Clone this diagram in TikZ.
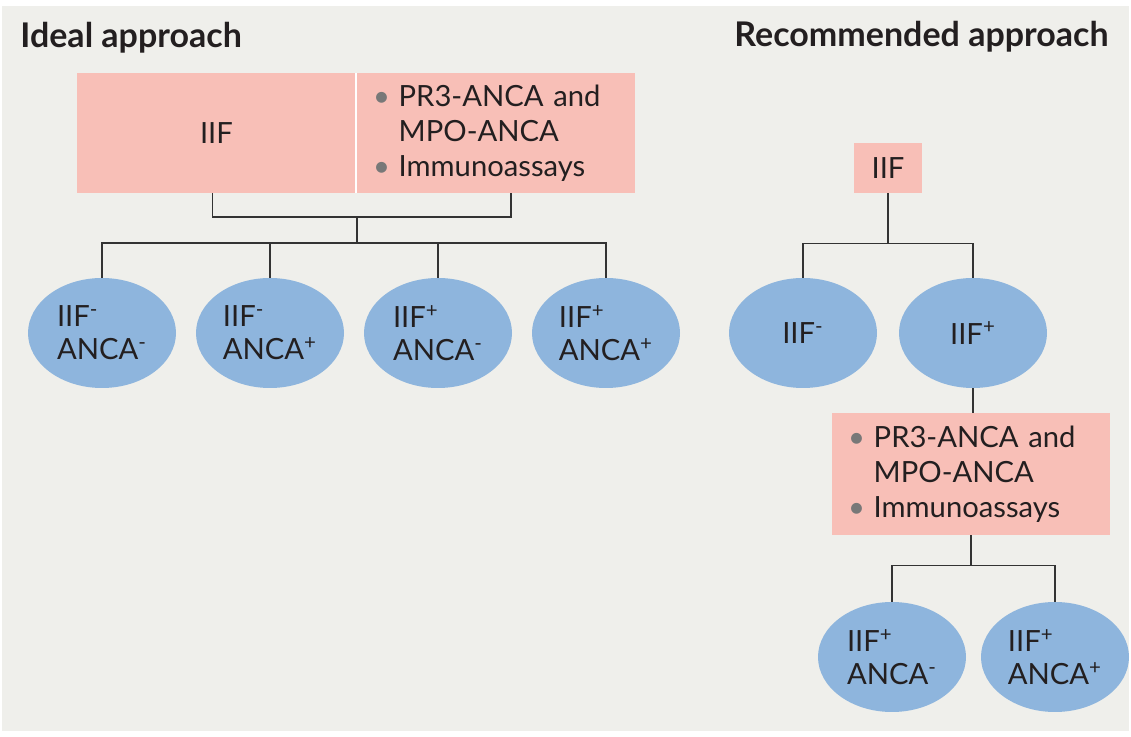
\documentclass[tikz,border=0pt]{standalone}
\usepackage{fontspec}
\setmainfont{Lato}
\usetikzlibrary{shapes.geometric}
\definecolor{bggrey}{RGB}{239,239,235}
\definecolor{boxpink}{RGB}{248,191,183}
\definecolor{ovalblue}{RGB}{142,181,221}
\definecolor{linegrey}{RGB}{51,51,51}
\definecolor{dotgrey}{RGB}{120,120,120}
\definecolor{inkblack}{RGB}{35,31,32}
\newcommand{\dotitem}{\textcolor{dotgrey}{\textbullet}\hspace{0.3em}}
\newcommand{\dotgap}{\hphantom{\textbullet\hspace{0.3em}}}
\newcommand{\testlist}{\dotitem PR3-ANCA and\\\dotgap MPO-ANCA\\\dotitem Immunoassays}

\begin{document}
\begin{tikzpicture}[x=0.5pt,y=-0.5pt,
    every node/.style={font=\fontsize{14.6}{17.5}\selectfont, text=inkblack},
    test/.style={fill=boxpink, inner sep=0pt},
    testlistbox/.style={test, align=left, inner xsep=8pt, text width=123pt, minimum height=61pt},
    oval/.style={ellipse, fill=ovalblue, inner sep=0pt, minimum width=74pt, minimum height=55pt, align=left, font=\fontsize{14.6}{16.5}\selectfont},
    link/.style={draw=linegrey, line width=0.75pt},
    heading/.style={inner sep=0pt, font=\bfseries\fontsize{17}{20}\selectfont}]
  % background
  \fill[white] (0,0) rectangle (1131,737);
  \fill[bggrey] (2,6) rectangle (1129,731);

  % ideal approach
  \node[heading, anchor=base west] (idealtitle) at (20,48) {Ideal approach};
  \node[test, minimum width=139.5pt, minimum height=60pt] (iif) at (216.5,133) {IIF};
  \node[testlistbox, minimum height=60pt] (tests) at (496,133) {\testlist};
  \draw[white, line width=1pt] (iif.north east) -- (iif.south east);

  \node[oval] (e1) at (102,333) {IIF\textsuperscript{-}\\ANCA\textsuperscript{-}};
  \node[oval] (e2) at (270,333) {IIF\textsuperscript{-}\\ANCA\textsuperscript{+}};
  \node[oval] (e3) at (438,333) {IIF\textsuperscript{+}\\ANCA\textsuperscript{-}};
  \node[oval] (e4) at (606,333) {IIF\textsuperscript{+}\\ANCA\textsuperscript{+}};

  \coordinate (ij) at (357,217);
  \coordinate (ib) at (357,243);
  \draw[link] ([xshift=-2pt]iif.south) |- (ij) -| ([xshift=7.5pt]tests.south);
  \draw[link] (ij) -- (ib);
  \draw[link] (e1.north) |- (ib) -| (e4.north);
  \draw[link] (e2.north) -- (e2.north |- ib);
  \draw[link] (e3.north) -- (e3.north |- ib);

  % recommended approach
  \node[heading, anchor=base east] (rectitle) at (1109,47) {Recommended approach};
  \node[test, minimum width=34pt, minimum height=25pt] (r) at (888,168) {IIF};
  \node[oval] (rn) at (803,333) {IIF\textsuperscript{-}};
  \node[oval] (rp) at (973,333) {IIF\textsuperscript{+}};
  \node[testlistbox] (rt) at (971,474) {\testlist};
  \node[oval] (rq1) at (892,657) {IIF\textsuperscript{+}\\ANCA\textsuperscript{-}};
  \node[oval] (rq2) at (1055,657) {IIF\textsuperscript{+}\\ANCA\textsuperscript{+}};

  \draw[link] (r.south) -- ++(0,50) coordinate (rb);
  \draw[link] (rn.north) |- (rb) -| (rp.north);
  \draw[link] (rp.south) -- (rp.south |- rt.north);
  \draw[link] (rt.south) -- ++(0,30) coordinate (rc);
  \draw[link] (rq1.north) |- (rc) -| (rq2.north);
\end{tikzpicture}
\end{document}
